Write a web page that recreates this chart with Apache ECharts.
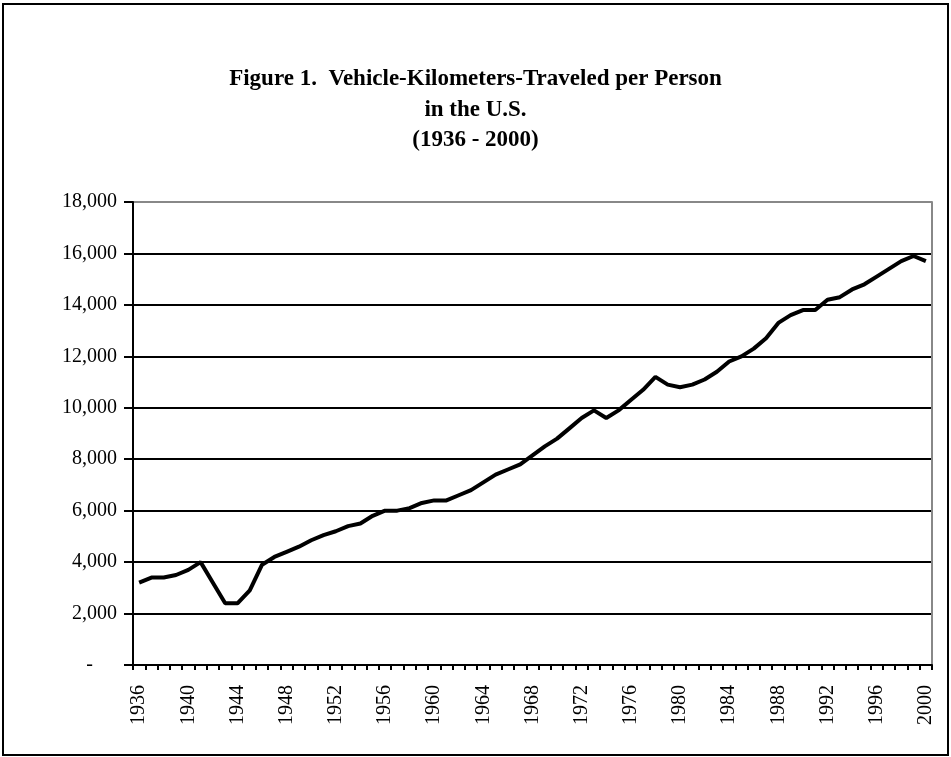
<!DOCTYPE html>
<html>
<head>
<meta charset="utf-8">
<script src="https://cdn.jsdelivr.net/npm/echarts@6/dist/echarts.min.js"></script>
<style>html,body{margin:0;padding:0;background:#fff;}#c{width:951px;height:757px;}</style>
</head>
<body>
<div id="c"></div>
<script>
const years = [];
for (let y = 1936; y <= 2000; y++) years.push(String(y));
const vktPerPerson = [
  3200, 3400, 3400, 3500, 3700, 4000, 3200, 2400, 2400, 2900,
  3900, 4200, 4400, 4600, 4850, 5050, 5200, 5400, 5500, 5800,
  6000, 6000, 6100, 6300, 6400, 6400, 6600, 6800, 7100, 7400,
  7600, 7800, 8150, 8500, 8800, 9200, 9600, 9900, 9600, 9900,
  10300, 10700, 11200, 10900, 10800, 10900, 11100, 11400, 11800, 12000,
  12300, 12700, 13300, 13600, 13800, 13800, 14200, 14300, 14600, 14800,
  15100, 15400, 15700, 15900, 15700
];
const titleLines = ['Figure 1.  Vehicle-Kilometers-Traveled per Person', 'in the U.S.', '(1936 - 2000)'];
const serif = '"Liberation Serif", "Times New Roman", serif';

const chart = echarts.init(document.getElementById('c'));
chart.setOption({
  animation: false,
  backgroundColor: '#fff',
  title: {
    text: titleLines.join('\n'),
    left: 'center',
    top: 59,
    textStyle: { fontFamily: serif, fontWeight: 'bold', fontSize: 23, color: '#000', lineHeight: 30.5 }
  },
  graphic: [{
    type: 'rect', z: 100,
    shape: { x: 3, y: 4, width: 945, height: 751 },
    style: { fill: 'none', stroke: '#000', lineWidth: 2 }
  }],
  grid: { left: 133, right: 19, top: 202, bottom: 92, containLabel: false },
  xAxis: {
    type: 'category',
    data: years,
    boundaryGap: true,
    axisLine: { show: true, lineStyle: { color: '#000', width: 2 } },
    axisTick: { show: true, interval: 0, length: 5, lineStyle: { color: '#000', width: 2 } },
    axisLabel: { interval: 3, rotate: 90, margin: 20, fontFamily: serif, fontSize: 20, color: '#000' },
    splitLine: { show: false }
  },
  yAxis: [{
    type: 'value',
    min: 0, max: 18000, interval: 2000,
    axisLine: { show: true, lineStyle: { color: '#000', width: 2 } },
    axisTick: { show: true, length: 9, lineStyle: { color: '#000', width: 2 } },
    axisLabel: {
      margin: 16, fontFamily: serif, fontSize: 20, color: '#000',
      formatter: v => v === 0 ? '{z|-}' : v.toLocaleString('en-US'),
      rich: { z: { fontFamily: serif, fontSize: 20, color: '#000', padding: [0, 24, 0, 0] } }
    },
    splitLine: { show: true, lineStyle: { width: 2, color: ['#000','#000','#000','#000','#000','#000','#000','#000','#000','#888'] } }
  }, {
    type: 'value', position: 'right',
    min: 0, max: 18000, interval: 2000,
    axisLine: { show: true, lineStyle: { color: '#888', width: 2 } },
    axisTick: { show: false }, axisLabel: { show: false }, splitLine: { show: false }
  }],
  series: [{
    type: 'line',
    data: vktPerPerson,
    symbol: 'none',
    lineStyle: { color: '#000', width: 4 },
    z: 5
  }]
});
</script>
</body>
</html>
